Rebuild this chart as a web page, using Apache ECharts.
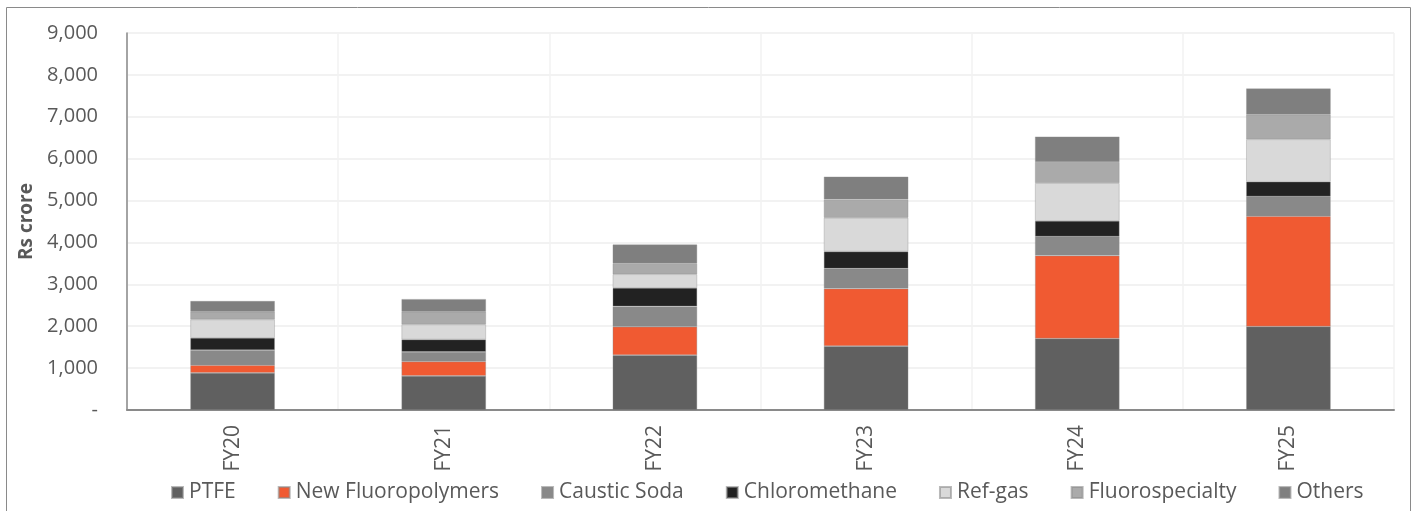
<!DOCTYPE html>
<html>
<head>
<meta charset="utf-8">
<script src="https://cdn.jsdelivr.net/npm/echarts@6/dist/echarts.min.js"></script>
<style>
html,body{margin:0;padding:0;background:#fff;}
#chart{width:1416px;height:511px;}
</style>
</head>
<body>
<div id="chart"></div>
<script>
const categories = ['FY20', 'FY21', 'FY22', 'FY23', 'FY24', 'FY25'];
const ptfe = [886, 814, 1309, 1525, 1707, 1994];
const newFluoropolymers = [184, 343, 678, 1372, 1979, 2633];
const causticSoda = [359, 231, 487, 479, 455, 471];
const chloromethane = [294, 295, 440, 407, 375, 352];
const refGas = [438, 359, 326, 806, 900, 1012];
const fluorospecialty = [184, 303, 263, 438, 503, 591];
const others = [256, 303, 447, 543, 608, 622];
const yTicks = [0, 1000, 2000, 3000, 4000, 5000, 6000, 7000, 8000, 9000];

const seriesDefs = [
  ['PTFE', ptfe, '#606060'],
  ['New Fluoropolymers', newFluoropolymers, '#F05A32'],
  ['Caustic Soda', causticSoda, '#898989'],
  ['Chloromethane', chloromethane, '#222222'],
  ['Ref-gas', refGas, '#D9D9D9'],
  ['Fluorospecialty', fluorospecialty, '#AAAAAA'],
  ['Others', others, '#7F7F7F']
];

const chart = echarts.init(document.getElementById('chart'));
const font = 'Open Sans, Noto Sans, sans-serif';
chart.setOption({
  animation: false,
  textStyle: { fontFamily: font },
  graphic: [{
    type: 'rect',
    shape: { x: 6.5, y: 7.5, width: 1404, height: 520 },
    style: { fill: 'none', stroke: '#8a8a8a', lineWidth: 1 },
    silent: true, z: -1
  }],
  legend: {
    bottom: 3,
    left: 166,
    itemWidth: 11,
    itemHeight: 11,
    itemGap: 42,
    icon: 'rect',
    textStyle: { fontSize: 21, color: '#595959', fontFamily: font, padding: [0, 0, 0, 1] },
    data: seriesDefs.map(s => s[0])
  },
  grid: { left: 127, right: 22, top: 33, bottom: 101, containLabel: false },
  xAxis: {
    type: 'category',
    data: categories,
    axisLine: { lineStyle: { color: '#8a8a8a', width: 2 } },
    axisTick: { show: false },
    splitLine: { show: true, lineStyle: { color: '#f2f2f2', width: 1.5 } },
    axisLabel: { rotate: 90, fontSize: 21, color: '#595959', margin: 15 }
  },
  yAxis: {
    type: 'value',
    min: yTicks[0],
    max: yTicks[yTicks.length - 1],
    interval: 1000,
    name: 'Rs crore',
    nameLocation: 'middle',
    nameGap: 83,
    nameTextStyle: { fontSize: 19, fontWeight: 'bold', color: '#595959' },
    axisLine: { show: true, lineStyle: { color: '#8a8a8a', width: 1.5 } },
    axisTick: { show: false },
    splitLine: { lineStyle: { color: '#eeeeee', width: 1.5 } },
    axisLabel: {
      fontSize: 20, color: '#595959', margin: 29,
      formatter: v => v === 0 ? '-' : v.toLocaleString('en-US')
    }
  },
  series: seriesDefs.map(([name, data, color]) => ({
    name, type: 'bar', stack: 'total', data,
    barWidth: '40%',
    itemStyle: { color, borderColor: 'rgba(140,140,140,0.6)', borderWidth: 0.6 }
  }))
});
</script>
</body>
</html>
